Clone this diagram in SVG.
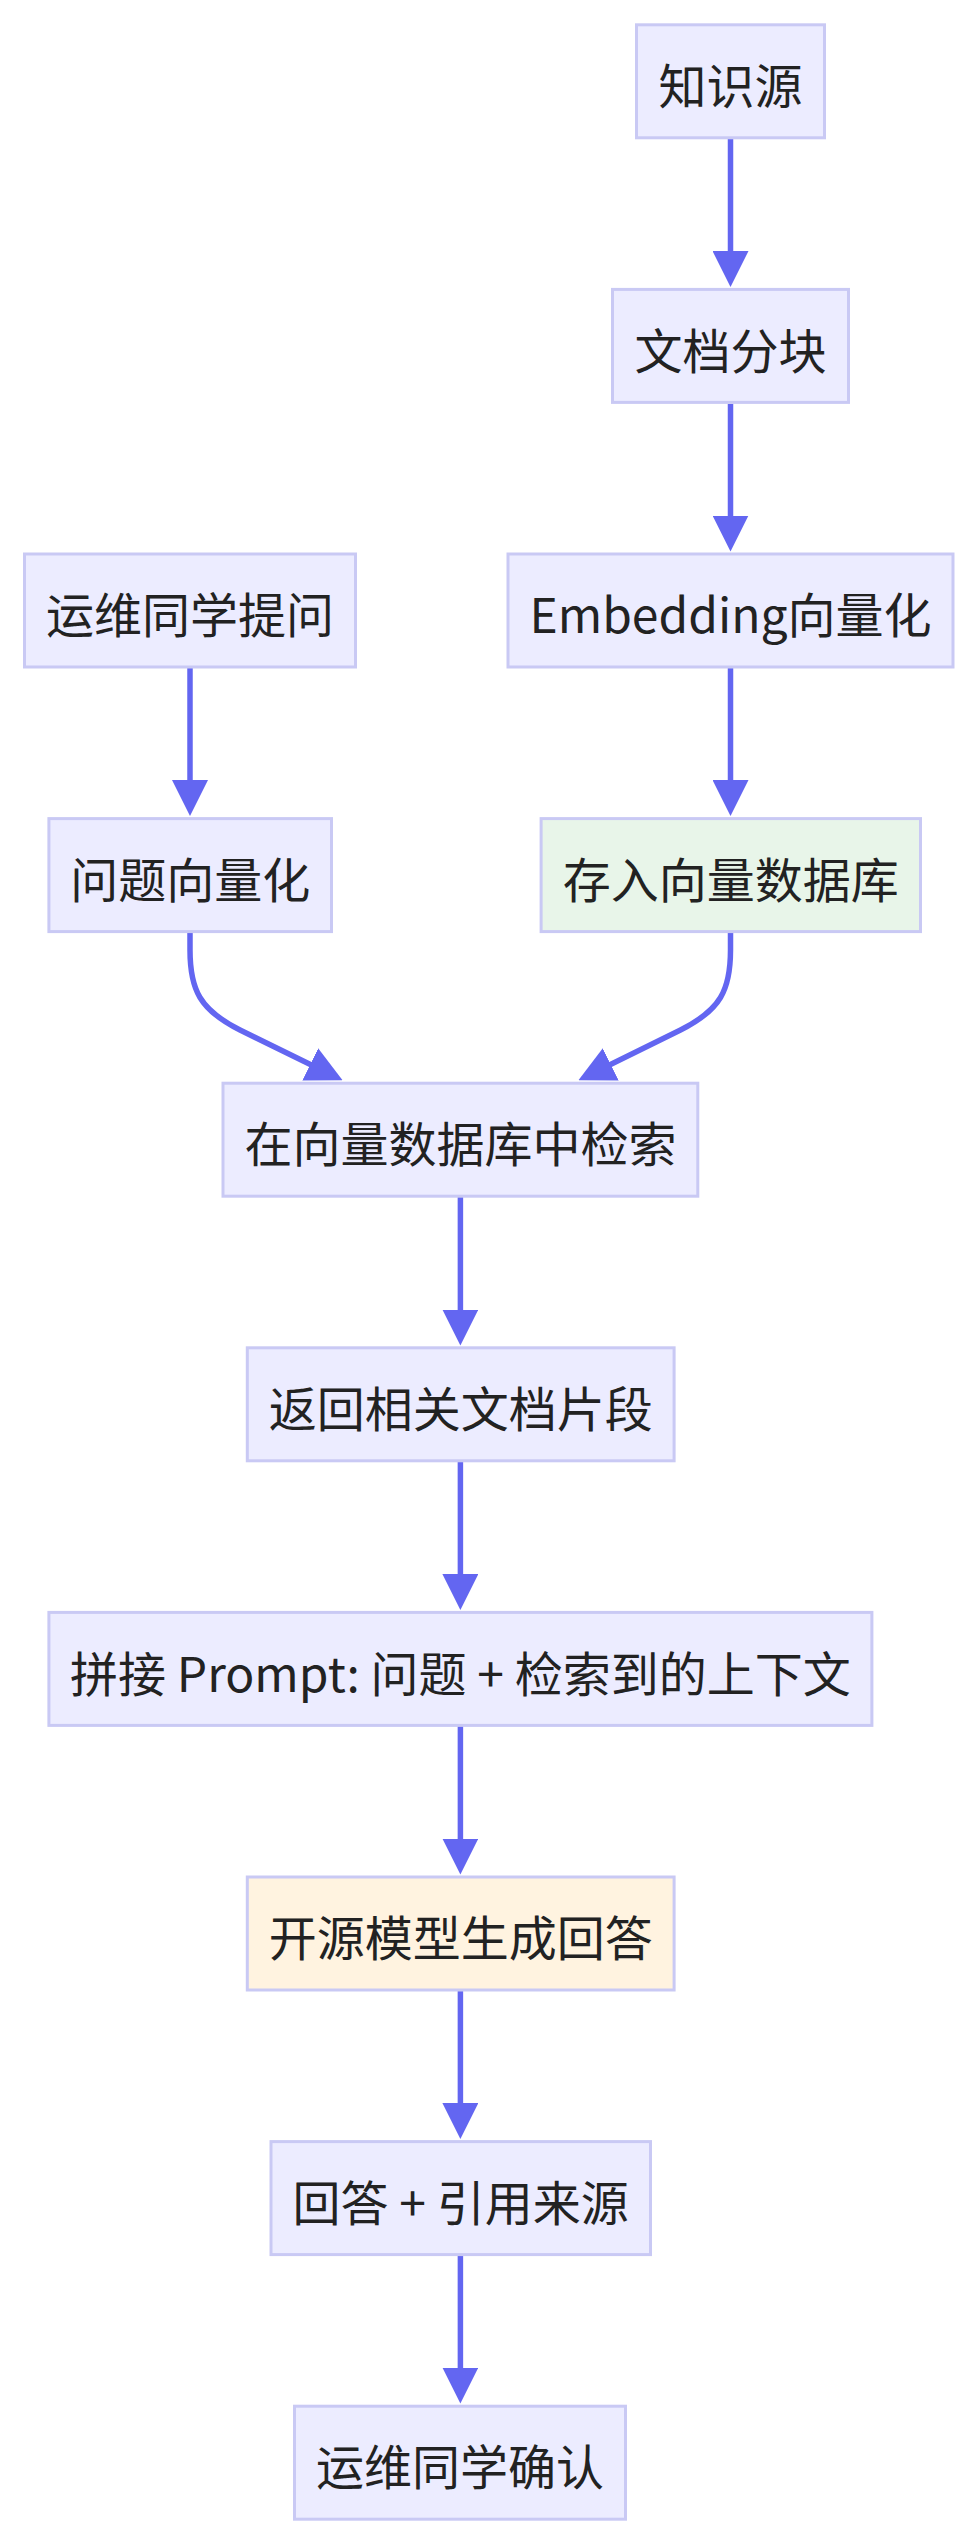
<svg xmlns="http://www.w3.org/2000/svg" width="978" height="2544" viewBox="0 0 978 2544">
<style>
.node rect{fill:#ECECFF;stroke:#C9C9F4;stroke-width:3}
.node.green rect{fill:#E8F5E9}
.node.orange rect{fill:#FFF3E0}
.node text{font-family:"Noto Sans CJK SC","Noto Sans",sans-serif;font-size:48px;fill:#222;text-anchor:middle}
.edges path{fill:none;stroke:#6366F1;stroke-width:5.5;marker-end:url(#arrow)}
</style>
<defs>
<marker id="arrow" viewBox="0 0 36 36" refX="28" refY="18" markerWidth="36" markerHeight="36" markerUnits="userSpaceOnUse" orient="auto">
<path d="M0,0 L36,18 L0,36 Z" fill="#6366F1"/>
</marker>
</defs>
<rect width="978" height="2544" fill="#FFFFFF"/>
<g class="edges">
<path d="M730.5,139 L730.5,279"/>
<path d="M730.5,404 L730.5,543.5"/>
<path d="M190,668 L190,808"/>
<path d="M730.5,668 L730.5,808"/>
<path d="M190,933 L190,950 C190,990 200,1010 240,1030 L335.4,1076.7"/>
<path d="M730.5,933 L730.5,950 C730.5,990 720.5,1010 680.5,1030 L585.6,1076.7"/>
<path d="M460.4,1197 L460.4,1337.5"/>
<path d="M460.4,1461 L460.4,1602"/>
<path d="M460.4,1726 L460.4,1866.5"/>
<path d="M460.4,1990 L460.4,2131"/>
<path d="M460.4,2256 L460.4,2395.5"/>
</g>
<g id="n1" class="node"><rect x="636.5" y="24.8" width="188" height="113"/><text x="730.5" y="104">知识源</text></g>
<g id="n2" class="node"><rect x="612.5" y="289.4" width="236" height="113"/><text x="730.5" y="368.6">文档分块</text></g>
<g id="n3" class="node"><rect x="508" y="554" width="445" height="113"/><text x="730.5" y="633.2">Embedding向量化</text></g>
<g id="n4" class="node"><rect x="24.5" y="554" width="331" height="113"/><text x="190" y="633.2">运维同学提问</text></g>
<g id="n5" class="node"><rect x="48.9" y="818.6" width="282.6" height="113"/><text x="190.2" y="897.8">问题向量化</text></g>
<g id="n6" class="node green"><rect x="541.1" y="818.6" width="379.4" height="113"/><text x="730.8" y="897.8">存入向量数据库</text></g>
<g id="n7" class="node"><rect x="223" y="1083.2" width="474.8" height="113"/><text x="460.4" y="1162.4">在向量数据库中检索</text></g>
<g id="n8" class="node"><rect x="247.3" y="1347.8" width="426.8" height="113"/><text x="460.7" y="1427">返回相关文档片段</text></g>
<g id="n9" class="node"><rect x="48.9" y="1612.4" width="823" height="113"/><text x="460.4" y="1691.6">拼接 Prompt: 问题 + 检索到的上下文</text></g>
<g id="n10" class="node orange"><rect x="247.3" y="1877" width="426.8" height="113"/><text x="460.7" y="1956.2">开源模型生成回答</text></g>
<g id="n11" class="node"><rect x="271" y="2141.6" width="379.5" height="113"/><text x="460.7" y="2220.8">回答 + 引用来源</text></g>
<g id="n12" class="node"><rect x="294.5" y="2406.2" width="331" height="113"/><text x="460" y="2485.4">运维同学确认</text></g>
</svg>
